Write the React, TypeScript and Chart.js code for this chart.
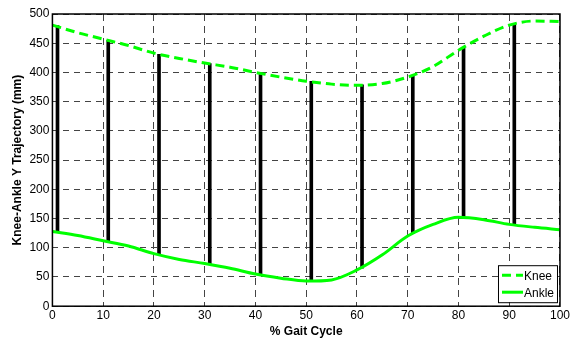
import React, { useEffect, useRef } from "react";
import { Chart, registerables } from "chart.js";
Chart.register(...registerables);

const curveX = [0, 5, 10, 15, 20, 25, 30, 35, 40, 45, 50, 55, 60, 65, 70, 75, 80, 85, 90, 95, 100];
const kneeY = [481, 468, 457, 446, 433, 424, 416, 409, 400, 392, 385, 380, 378, 381, 392, 410, 438, 462, 481, 488, 487];
const ankleY = [128, 121, 112, 103, 90, 80, 73, 65, 55, 48, 43, 45, 62, 88, 120, 140, 152, 148, 140, 135, 131];
const barX = [1, 11, 21, 31, 41, 51, 61, 71, 81, 91];
const barLow = [127, 110, 88, 71, 53, 43, 65, 124, 153, 139];
const barHigh = [480, 455, 431, 415, 398, 385, 379, 395, 442, 483];
const xTicks = [0, 10, 20, 30, 40, 50, 60, 70, 80, 90, 100];
const yTicks = [0, 50, 100, 150, 200, 250, 300, 350, 400, 450, 500];

const FONT = "'Liberation Sans', Arial, sans-serif";

const framePlugin = {
  id: "frame",
  afterDatasetsDraw(chart: any) {
    const { ctx, chartArea: a } = chart;
    ctx.save();
    ctx.strokeStyle = "#000";
    ctx.lineWidth = 1.5;
    ctx.strokeRect(a.left, a.top, a.right - a.left, a.bottom - a.top);
    ctx.restore();
  },
};

const legendPlugin = {
  id: "customLegend",
  afterDraw(chart: any) {
    const { ctx, chartArea: a } = chart;
    const items = chart.data.datasets.filter((d: any) => d.showInLegend);
    const w = 59, h = 37;
    const x = a.right - w - 3, y = a.bottom - h - 4;
    ctx.save();
    ctx.fillStyle = "#fff";
    ctx.fillRect(x, y, w, h);
    ctx.strokeStyle = "#000";
    ctx.lineWidth = 1;
    ctx.strokeRect(x + 0.5, y + 0.5, w, h);
    ctx.font = `12px ${FONT}`;
    ctx.textBaseline = "middle";
    items.forEach((d: any, i: number) => {
      const cy = y + 10 + i * 17;
      ctx.strokeStyle = d.borderColor;
      ctx.lineWidth = 3;
      ctx.setLineDash(d.borderDash || []);
      ctx.beginPath();
      ctx.moveTo(x + 4, cy);
      ctx.lineTo(x + 25, cy);
      ctx.stroke();
      ctx.setLineDash([]);
      ctx.fillStyle = "#000";
      ctx.fillText(d.label, x + 26, cy + 1);
    });
    ctx.restore();
  },
};

export default function App() {
  const ref = useRef<HTMLCanvasElement>(null);
  useEffect(() => {
    document.body.style.margin = "0";
    const chart = new Chart(ref.current!, {
      type: "line",
      data: {
        datasets: [
          {
            type: "bar",
            label: "bars",
            data: barX.map((x, i) => ({ x, y: [barLow[i], barHigh[i]] })) as any,
            backgroundColor: "#000",
            barThickness: 3,
            order: 3,
          } as any,
          {
            label: "Knee",
            showInLegend: true,
            data: curveX.map((x, i) => ({ x, y: kneeY[i] })),
            borderColor: "#00ff00",
            borderWidth: 3,
            borderDash: [9, 5],
            pointRadius: 0,
            cubicInterpolationMode: "monotone",
            order: 1,
          } as any,
          {
            label: "Ankle",
            showInLegend: true,
            data: curveX.map((x, i) => ({ x, y: ankleY[i] })),
            borderColor: "#00ff00",
            borderWidth: 3,
            pointRadius: 0,
            cubicInterpolationMode: "monotone",
            order: 2,
          } as any,
        ],
      },
      options: {
        animation: false,
        responsive: false,
        maintainAspectRatio: false,
        layout: { padding: { top: 14, right: 10, left: 6, bottom: -1 } },
        plugins: { legend: { display: false }, tooltip: { enabled: false } },
        scales: {
          x: {
            type: "linear",
            min: 0,
            max: 100,
            offset: false,
            afterBuildTicks: (s: any) => { s.ticks = xTicks.map((v) => ({ value: v })); },
            grid: { color: "#444", lineWidth: 1, tickLength: 0, drawTicks: false, offset: false },
            border: { display: false, dash: [7, 5] },
            ticks: { color: "#000", font: { family: FONT, size: 12 }, padding: 2 },
            title: { display: true, text: "% Gait Cycle", color: "#000", font: { family: FONT, size: 12, weight: "bold" }, padding: { top: 0, bottom: 0 } },
          },
          y: {
            type: "linear",
            min: 0,
            max: 500,
            afterBuildTicks: (s: any) => { s.ticks = yTicks.map((v) => ({ value: v })); },
            grid: { color: "#444", lineWidth: 1, tickLength: 0, drawTicks: false },
            border: { display: false, dash: [6, 5] },
            ticks: { color: "#000", font: { family: FONT, size: 12 }, padding: 3 },
            title: { display: true, text: "Knee-Ankle Y Trajectory (mm)", color: "#000", font: { family: FONT, size: 12, weight: "bold" }, padding: { top: 4, bottom: 2 } },
          },
        },
      } as any,
      plugins: [framePlugin, legendPlugin],
    });
    return () => chart.destroy();
  }, []);
  return (
    <div style={{ width: 572, height: 338 }}>
      <canvas ref={ref} width={572} height={338} />
    </div>
  );
}
